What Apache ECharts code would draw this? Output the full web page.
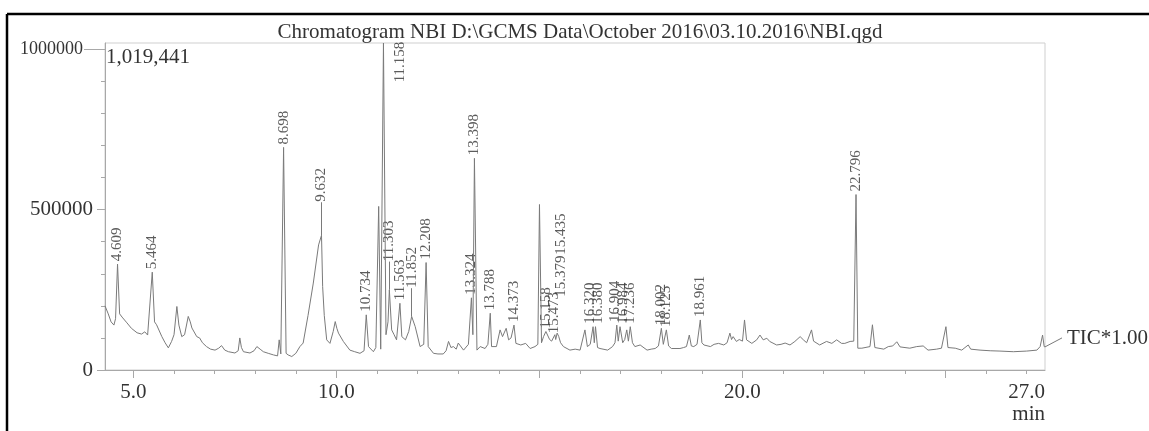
<!DOCTYPE html>
<html>
<head>
<meta charset="utf-8">
<script src="https://cdn.jsdelivr.net/npm/echarts@6/dist/echarts.min.js"></script>
<style>
  html, body { margin: 0; padding: 0; background: #fff; }
  #chart { width: 1149px; height: 431px; }
</style>
</head>
<body>
<div id="chart"></div>
<script>
// retention time (min) and total ion current
const rt = [
  4.30, 4.38, 4.45, 4.52, 4.56, 4.609, 4.66, 4.72, 4.84, 4.95, 5.09, 5.20, 5.28, 5.35, 5.464, 5.52, 5.57, 5.70, 5.78, 5.86,
  5.94, 6.00, 6.07, 6.12, 6.19, 6.26, 6.35, 6.40, 6.44, 6.56, 6.63, 6.70, 6.80, 6.90, 7.01, 7.10, 7.17, 7.25, 7.34, 7.50,
  7.58, 7.62, 7.66, 7.71, 7.87, 7.97, 8.04, 8.12, 8.20, 8.32, 8.45, 8.55, 8.59, 8.63, 8.698, 8.76, 8.81, 8.90, 9.00, 9.10,
  9.18, 9.30, 9.43, 9.56, 9.632, 9.66, 9.70, 9.76, 9.84, 9.92, 9.97, 10.01, 10.05, 10.17, 10.33, 10.45, 10.58, 10.68, 10.734, 10.79,
  10.91, 10.97, 11.04, 11.09, 11.158, 11.22, 11.27, 11.303, 11.36, 11.42, 11.48, 11.563, 11.61, 11.70, 11.78, 11.852, 11.94, 12.06, 12.15, 12.208,
  12.26, 12.39, 12.50, 12.63, 12.70, 12.76, 12.82, 12.88, 12.95, 13.00, 13.13, 13.25, 13.324, 13.36, 13.398, 13.46, 13.54, 13.66, 13.73, 13.788,
  13.82, 13.94, 14.03, 14.09, 14.18, 14.24, 14.30, 14.373, 14.42, 14.54, 14.66, 14.77, 14.89, 14.96, 15.00, 15.05, 15.10, 15.158, 15.25, 15.30,
  15.379, 15.40, 15.435, 15.473, 15.52, 15.59, 15.75, 15.88, 16.00, 16.12, 16.18, 16.25, 16.320, 16.35, 16.380, 16.43, 16.49, 16.68, 16.80, 16.86,
  16.904, 16.94, 16.984, 17.05, 17.10, 17.15, 17.19, 17.236, 17.29, 17.35, 17.48, 17.65, 17.75, 17.85, 17.93, 18.002, 18.05, 18.125, 18.18, 18.25,
  18.46, 18.55, 18.62, 18.69, 18.74, 18.80, 18.88, 18.961, 19.00, 19.05, 19.21, 19.30, 19.41, 19.54, 19.62, 19.69, 19.73, 19.77, 19.85, 19.92,
  20.00, 20.05, 20.10, 20.23, 20.35, 20.43, 20.51, 20.60, 20.67, 20.84, 20.95, 21.05, 21.17, 21.29, 21.42, 21.50, 21.58, 21.70, 21.75, 21.78,
  21.90, 22.07, 22.20, 22.32, 22.44, 22.52, 22.65, 22.74, 22.796, 22.84, 22.94, 23.14, 23.20, 23.26, 23.48, 23.59, 23.70, 23.80, 23.88, 24.12,
  24.29, 24.45, 24.57, 24.78, 24.90, 25.01, 25.06, 25.24, 25.40, 25.56, 25.62, 25.85, 26.10, 26.34, 26.67, 27.00, 27.25, 27.33, 27.39, 27.43,
  27.45
];
const tic = [
  200000, 175000, 150000, 140000, 160000, 330000, 175000, 165000, 147000, 130000, 116000, 112000, 119000, 109000, 305000, 150000, 141000, 104000, 85000, 69000,
  89000, 110000, 198000, 140000, 104000, 110000, 167000, 150000, 131000, 104000, 100000, 85000, 73000, 65000, 62000, 68000, 76000, 62000, 57000, 53000,
  60000, 100000, 70000, 57000, 53000, 60000, 73000, 65000, 57000, 52000, 47000, 44000, 94000, 50000, 694000, 52000, 47000, 42000, 52000, 73000,
  84000, 170000, 271000, 390000, 420000, 260000, 170000, 94000, 83000, 120000, 151000, 130000, 115000, 89000, 62000, 57000, 52000, 60000, 172000, 73000,
  57000, 70000, 510000, 65000, 1019441, 110000, 150000, 250000, 125000, 110000, 94000, 208000, 104000, 94000, 120000, 167000, 135000, 73000, 80000, 335000,
  73000, 52000, 50000, 50000, 60000, 89000, 70000, 73000, 65000, 84000, 62000, 80000, 225000, 110000, 660000, 62000, 73000, 67000, 80000, 177000,
  73000, 73000, 125000, 104000, 130000, 94000, 100000, 140000, 83000, 78000, 83000, 67000, 73000, 80000, 516000, 85000, 104000, 120000, 95000, 90000,
  110000, 95000, 115000, 105000, 85000, 73000, 62000, 65000, 62000, 125000, 73000, 80000, 135000, 85000, 135000, 70000, 67000, 62000, 73000, 85000,
  140000, 90000, 135000, 85000, 95000, 125000, 90000, 135000, 85000, 73000, 78000, 62000, 65000, 67000, 75000, 130000, 80000, 125000, 75000, 67000,
  67000, 70000, 73000, 109000, 75000, 73000, 80000, 156000, 85000, 78000, 73000, 80000, 83000, 78000, 85000, 115000, 95000, 104000, 89000, 95000,
  90000, 156000, 94000, 83000, 94000, 109000, 94000, 99000, 89000, 78000, 80000, 84000, 78000, 89000, 104000, 94000, 85000, 125000, 90000, 89000,
  78000, 89000, 83000, 94000, 83000, 83000, 89000, 90000, 547000, 68000, 68000, 73000, 141000, 70000, 65000, 73000, 75000, 88000, 72000, 68000,
  73000, 75000, 62000, 65000, 68000, 135000, 70000, 68000, 62000, 78000, 65000, 62000, 60000, 59000, 57000, 59000, 62000, 73000, 109000, 73000,
  72000
];
// labelled peaks (retention times as printed)
const peakLabels = [
  '4.609', '5.464', '8.698', '9.632', '10.734', '11.158', '11.303', '11.563', '11.852', '12.208',
  '13.324', '13.398', '13.788', '14.373', '15.158', '15.379', '15.435', '15.473', '16.320', '16.380',
  '16.904', '16.984', '17.236', '18.002', '18.125', '18.961', '22.796'
];
const yMax = 1019441;
const yTicks = [0, 500000, 1000000];
const yMinorTicks = [0, 100000, 200000, 300000, 400000, 500000, 600000, 700000, 800000, 900000, 1000000];
const xLabelValues = [5, 10, 20, 27];
const xMajorTicks = [5, 10, 15, 20, 25];
const xMinorTicks = [5, 6, 7, 8, 9, 10, 11, 12, 13, 14, 15, 16, 17, 18, 19, 20, 21, 22, 23, 24, 25, 26, 27];
const titleText = 'Chromatogram NBI D:\\GCMS Data\\October 2016\\03.10.2016\\NBI.qgd';

// label placement tweaks (style only): lift in intensity units, shift in px to the right
const labelLift = {
  '9.632': 95000, '11.158': -132000, '11.303': 80000, '11.852': 80000,
  '15.379': 109000, '15.435': 235000
};
const labelShift = {
  '11.158': 17, '15.379': 6, '15.435': 4, '15.473': -5, '16.320': -3, '16.380': 3,
  '16.904': -2, '16.984': 3
};
const leaderFor = ['9.632', '11.303', '11.852'];

const FONT = '"Liberation Serif", "Times New Roman", serif';
const AXIS_GREY = '#a8a8a8';
const TEXT = '#333';

const chart = echarts.init(document.getElementById('chart'));

const trace = rt.map((t, i) => [t, tic[i]]);

function apexOf(l) {
  return tic[rt.indexOf(parseFloat(l))];
}

const labelPoints = peakLabels.map(l => ({
  name: l,
  value: [parseFloat(l), apexOf(l) + (labelLift[l] || 0)],
  // rotated label: local y maps to screen x
  label: { offset: [0, labelShift[l] || 0] }
}));

const leaders = leaderFor.map(l => {
  const t = parseFloat(l);
  return [{ coord: [t, apexOf(l)] }, { coord: [t, apexOf(l) + labelLift[l] + 8000] }];
});

const option = {
  animation: false,
  backgroundColor: '#fff',
  grid: { left: 105, right: 104, top: 43, bottom: 61, show: true, borderColor: '#cfcfcf', borderWidth: 1, outerBoundsMode: 'none' },
  xAxis: [
    {
      type: 'value', min: 4.3, max: 27.45,
      axisLine: { show: true, lineStyle: { color: AXIS_GREY } },
      axisTick: { show: true, customValues: xMajorTicks, length: 8, lineStyle: { color: AXIS_GREY } },
      axisLabel: {
        customValues: xLabelValues, formatter: v => v.toFixed(1), margin: 12,
        fontFamily: FONT, fontSize: 21, color: TEXT
      },
      splitLine: { show: false }
    },
    {
      type: 'value', min: 4.3, max: 27.45, position: 'bottom',
      axisLine: { show: false },
      axisTick: { show: true, customValues: xMinorTicks, length: 4, lineStyle: { color: AXIS_GREY } },
      axisLabel: { show: false },
      splitLine: { show: false }
    }
  ],
  yAxis: [
    {
      type: 'value', min: 0, max: yMax,
      axisLine: { show: true, lineStyle: { color: AXIS_GREY } },
      axisTick: { show: true, customValues: yTicks, length: 8, lineStyle: { color: AXIS_GREY } },
      axisLabel: {
        customValues: yTicks, margin: 12,
        formatter: v => (v === 1000000 ? '{top|' + v + '}' : String(v)),
        fontFamily: FONT, fontSize: 21, color: TEXT,
        rich: { top: { fontFamily: FONT, fontSize: 18, color: TEXT, padding: [0, 10, 0, 0] } }
      },
      splitLine: { show: false }
    },
    {
      type: 'value', min: 0, max: yMax, position: 'left',
      axisLine: { show: false },
      axisTick: { show: true, customValues: yMinorTicks, length: 4, lineStyle: { color: AXIS_GREY } },
      axisLabel: { show: false },
      splitLine: { show: false }
    },
    {
      type: 'value', min: 0, max: yMax, position: 'left',
      axisLine: { show: false },
      axisTick: { show: true, customValues: [1000000], length: 21, lineStyle: { color: AXIS_GREY } },
      axisLabel: { show: false },
      splitLine: { show: false }
    }
  ],
  series: [
    {
      name: 'TIC', type: 'line', data: trace, symbol: 'none',
      lineStyle: { color: '#7a7a7a', width: 1 },
      markLine: {
        silent: true, symbol: 'none', label: { show: false },
        lineStyle: { color: '#7a7a7a', width: 1, type: 'solid' },
        data: leaders
      }
    },
    {
      name: 'peaks', type: 'scatter', data: labelPoints, symbolSize: 0,
      itemStyle: { color: 'transparent' },
      label: {
        show: true, formatter: '{b}', position: 'top', distance: 3, rotate: 90,
        align: 'left', verticalAlign: 'middle',
        fontFamily: FONT, fontSize: 15, color: TEXT
      }
    }
  ],
  graphic: [
    { id: 'frameTop', type: 'line', shape: { x1: 7, y1: 14, x2: 1149, y2: 14 }, style: { stroke: '#000', lineWidth: 2.5 } },
    { id: 'frameLeft', type: 'line', shape: { x1: 7, y1: 14, x2: 7, y2: 431 }, style: { stroke: '#000', lineWidth: 2.5 } },
    { id: 'title', type: 'text', x: 580, y: 32, style: { text: titleText, font: '21px ' + FONT, fill: TEXT, textAlign: 'center', textVerticalAlign: 'middle' } },
    { id: 'maxVal', type: 'text', x: 106, y: 57, style: { text: '1,019,441', font: '21px ' + FONT, fill: TEXT, textVerticalAlign: 'middle' } },
    { id: 'unit', type: 'text', x: 1045, y: 414, style: { text: 'min', font: '21px ' + FONT, fill: TEXT, textAlign: 'right', textVerticalAlign: 'middle' } }
  ]
};

chart.setOption(option);

// short connector from the trace end to the TIC*1.00 tag
const end = chart.convertToPixel({ gridIndex: 0 }, trace[trace.length - 1]);
chart.setOption({
  graphic: [
    { id: 'ticLink', type: 'line', shape: { x1: end[0], y1: end[1], x2: end[0] + 17, y2: end[1] - 9 }, style: { stroke: '#7a7a7a', lineWidth: 1 } },
    { id: 'ticTag', type: 'text', x: end[0] + 22, y: end[1] - 8, style: { text: 'TIC*1.00', font: '21px ' + FONT, fill: TEXT, textVerticalAlign: 'middle' } }
  ]
});
</script>
</body>
</html>
